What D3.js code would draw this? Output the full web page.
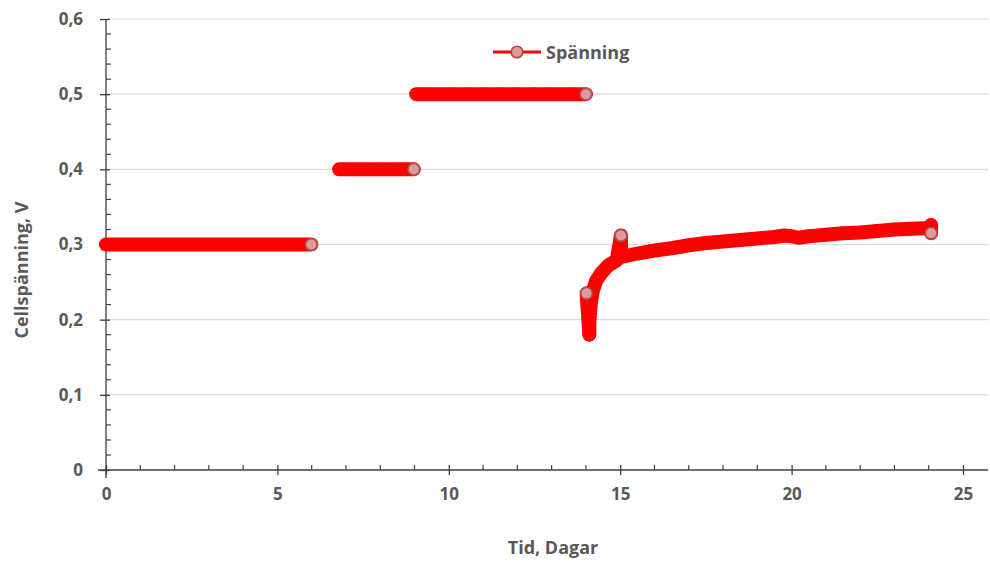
<!DOCTYPE html>
<html>
<head>
<meta charset="utf-8">
<script src="https://cdn.jsdelivr.net/npm/d3@7"></script>
<style>
  body { margin: 0; background: #fff; }
  svg text { font-family: "Open Sans", "Noto Sans", sans-serif; font-weight: bold; fill: #595959; }
</style>
</head>
<body>
<div id="chart"></div>
<script>
// data (tid i dagar, spänning i V)
const seg1T = [0, 0.5, 1, 1.5, 2, 2.5, 3, 3.5, 4, 4.5, 5, 5.5, 5.99]
const seg1V = [0.3, 0.3, 0.3, 0.3, 0.3, 0.3, 0.3, 0.3, 0.3, 0.3, 0.3, 0.3, 0.3]
const seg2T = [6.8, 7.2, 7.6, 8.0, 8.4, 8.8, 8.98]
const seg2V = [0.4, 0.4, 0.4, 0.4, 0.4, 0.4, 0.4]
const seg3T = [9.05, 9.5, 10, 10.5, 11, 11.5, 12, 12.5, 13, 13.5, 14.0]
const seg3V = [0.5, 0.5, 0.5, 0.5, 0.5, 0.5, 0.5, 0.5, 0.5, 0.5, 0.5]
const seg4T = [14.02, 14.1, 14.1, 14.12, 14.15, 14.2, 14.3, 14.45, 14.65, 14.9, 15.02, 15.03, 15.1,
  15.5, 16.0, 16.5, 17.0, 17.5, 18.0, 18.5, 19.0, 19.5, 19.8, 20.0, 20.2, 20.5, 21.0, 21.5,
  22.0, 22.5, 23.0, 23.5, 24.0, 24.07, 24.07]
const seg4V = [0.235, 0.18, 0.195, 0.21, 0.225, 0.238, 0.252, 0.262, 0.272, 0.279, 0.312, 0.284, 0.284,
  0.288, 0.292, 0.295, 0.299, 0.302, 0.304, 0.306, 0.308, 0.310, 0.312, 0.311, 0.309, 0.311, 0.313, 0.315,
  0.316, 0.318, 0.320, 0.321, 0.322, 0.326, 0.315]

const xTicks = [0, 5, 10, 15, 20, 25]
const yTicks = [0, 0.1, 0.2, 0.3, 0.4, 0.5, 0.6]
const seriesName = "Spänning"

const W = 990, H = 562
const svg = d3.select("#chart").append("svg").attr("width", W).attr("height", H)

const x = d3.scaleLinear().domain([0, 25]).range([106, 963])
const y = d3.scaleLinear().domain([0, 0.6]).range([470, 19])
const fmt = d => d === 0 ? "0" : d3.format(".1f")(d).replace(".", ",")
const axisEnd = 988

// gridlines
svg.append("g").selectAll("line").data(yTicks.filter(d => d > 0)).enter().append("line")
  .attr("x1", x(0)).attr("x2", axisEnd)
  .attr("y1", d => y(d)).attr("y2", d => y(d))
  .attr("stroke", "#d9d9d9").attr("stroke-width", 1.2)

// x axis
const xg = svg.append("g").attr("transform", "translate(0," + y(0) + ")")
xg.call(d3.axisBottom(x).tickValues(xTicks).tickFormat(d => d).tickSize(5).tickPadding(13))
xg.select(".domain").remove()
xg.append("line").attr("x1", x(0) - 8).attr("x2", axisEnd).attr("stroke", "#404040").attr("stroke-width", 1.3)
xg.selectAll(".tick line").attr("y1", -5).attr("y2", 5).attr("stroke", "#404040").attr("stroke-width", 1.3)
xg.selectAll(".tick text").style("font-size", "17px").attr("fill", "#595959")
xg.selectAll(".minor").data(d3.range(0, 26).filter(d => d % 5 !== 0)).enter().append("line")
  .attr("x1", d => x(d)).attr("x2", d => x(d)).attr("y1", 0).attr("y2", -5)
  .attr("stroke", "#404040").attr("stroke-width", 1.2)

// y axis
const yg = svg.append("g").attr("transform", "translate(" + x(0) + ",0)")
yg.call(d3.axisLeft(y).tickValues(yTicks).tickFormat(fmt).tickSize(6).tickPadding(17))
yg.select(".domain").remove()
yg.append("line").attr("y1", y(0.6)).attr("y2", y(0) + 8).attr("stroke", "#404040").attr("stroke-width", 1.3)
yg.selectAll(".tick line").attr("x1", -6).attr("x2", 4).attr("stroke", "#404040").attr("stroke-width", 1.3)
yg.selectAll(".tick text").style("font-size", "17px").attr("fill", "#595959")
yg.selectAll(".minor").data(d3.range(0, 31).filter(d => d % 5 !== 0).map(d => d / 50)).enter().append("line")
  .attr("x1", 0).attr("x2", 5).attr("y1", d => y(d)).attr("y2", d => y(d))
  .attr("stroke", "#404040").attr("stroke-width", 1.2)

// series
const segments = [[seg1T, seg1V], [seg2T, seg2V], [seg3T, seg3V], [seg4T, seg4V]]
  .map(([t, v]) => t.map((d, i) => ({ t: d, v: v[i] })))

const line = d3.line().x(d => x(d.t)).y(d => y(d.v))
const red = "#ff0000"

svg.append("g").selectAll("path").data(segments).enter().append("path")
  .attr("d", line).attr("fill", "none").attr("stroke", red)
  .attr("stroke-width", 14).attr("stroke-linecap", "round").attr("stroke-linejoin", "round")

// a marker shows its own fill only when nothing is drawn over it
const exposed = (seg, i) => {
  if (i === seg.length - 1) return true
  const nb = [seg[i - 1], seg[i + 1]].filter(Boolean)
  return nb.every(n => Math.abs(n.v - seg[i].v) > 0.02)
}

const pts = segments.flatMap(seg => seg.map((d, i) => ({ ...d, ex: exposed(seg, i) })))
pts.sort((a, b) => a.ex - b.ex)
svg.append("g").selectAll("circle").data(pts).enter().append("circle")
  .attr("cx", d => x(d.t)).attr("cy", d => y(d.v)).attr("r", 5.8)
  .attr("fill", d => d.ex ? "#dc9c9c" : red)
  .attr("stroke", d => d.ex ? "#a85454" : red)
  .attr("stroke-width", 1.6)

// legend
const lg = svg.append("g").attr("transform", "translate(493,52)")
lg.append("line").attr("x1", 0).attr("x2", 48).attr("stroke", red).attr("stroke-width", 3)
lg.append("circle").attr("cx", 24).attr("r", 5.8).attr("fill", "#dc9c9c").attr("stroke", "#c04040").attr("stroke-width", 1.6)
lg.append("text").attr("x", 53).attr("y", 7).style("font-size", "18px").text(seriesName)

// axis titles
svg.append("text").attr("x", 553).attr("y", 554).attr("text-anchor", "middle")
  .style("font-size", "18px").text("Tid, Dagar")
svg.append("text").attr("transform", "translate(28,270) rotate(-90)").attr("text-anchor", "middle")
  .style("font-size", "18px").text("Cellspänning, V")
</script>
</body>
</html>
